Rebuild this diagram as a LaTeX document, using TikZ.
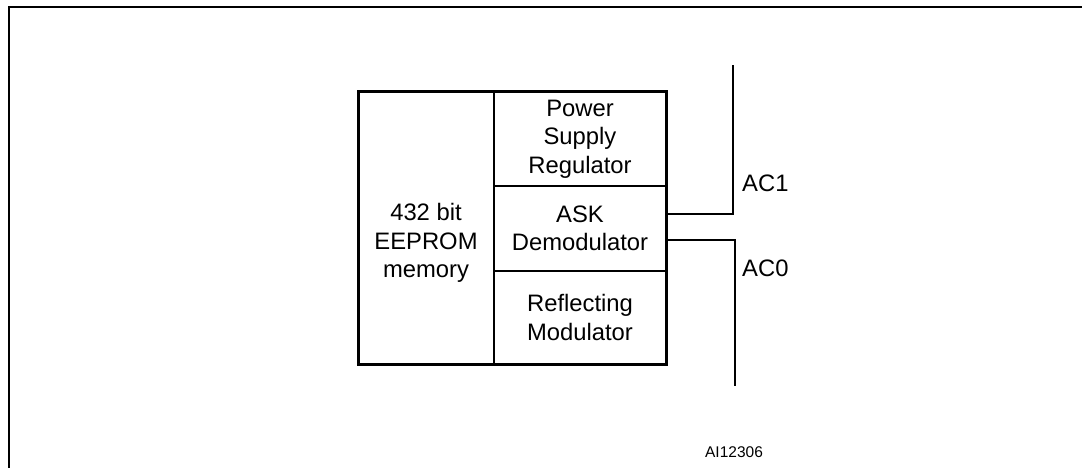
\documentclass[tikz,border=0pt]{standalone}
\usepackage{fontspec}
\setmainfont{Liberation Sans}
\begin{document}
\begin{tikzpicture}[x=1pt,y=-1pt,
  blk/.style={draw, line width=1.6pt, rectangle, outer sep=0pt, inner sep=0pt, align=center,
    font=\fontsize{23.8}{28.5}\selectfont},
  txt/.style={inner sep=0pt, align=center, font=\fontsize{23.8}{28.5}\selectfont},
  wire/.style={line width=1.6pt},
  lbl/.style={anchor=west, inner sep=0pt, font=\fontsize{23.8}{28}\selectfont}]
\useasboundingbox (0,0) rectangle (1082,468);
\draw[line width=2pt] (9,468) -- (9,7) -- (1082,7);
\node[blk, minimum width=136pt, minimum height=272pt] (mem) at (426,228) {};
\node[txt] (memtxt) at ([yshift=-15pt]mem.center) {432 bit\\EEPROM\\memory};
\node[blk, minimum width=172pt, minimum height=94pt] (psr) at (580,139) {Power\\Supply\\Regulator};
\node[blk, minimum width=172pt, minimum height=85pt] (ask) at (580,228.5) {ASK\\Demodulator};
\node[blk, minimum width=172pt, minimum height=93pt] (ref) at (580,317.5) {Reflecting\\Modulator};
\draw[line width=3pt] (mem.north west) rectangle (ref.south east);
\coordinate (ac1top) at (733,65);
\coordinate (ac0bot) at (735,386);
\draw[wire] ([yshift=14.5pt]ask.east) -| (ac1top);
\draw[wire] ([yshift=-11.5pt]ask.east) -| (ac0bot);
\node[lbl] (ac1) at (742,183) {AC1};
\node[lbl] (ac0) at (742,268) {AC0};
\node[inner sep=0pt, font=\fontsize{15.5}{18}\selectfont] (id) at (734,452) {AI12306};
\end{tikzpicture}
\end{document}
